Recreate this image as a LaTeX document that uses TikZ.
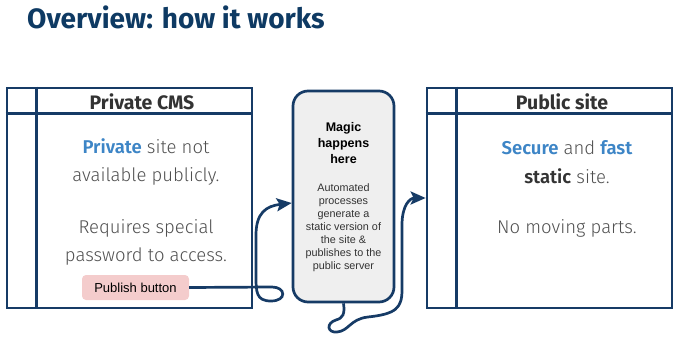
\documentclass[tikz,border=0pt]{standalone}
\usepackage{fontspec}
\setmainfont{Fira Sans}
\newfontfamily\lightfont{Fira Sans Light}
\newfontfamily\arialfont{Liberation Sans}
\usetikzlibrary{arrows.meta}

\definecolor{navy}{HTML}{0E3A63}
\definecolor{boxline}{HTML}{163B66}
\definecolor{hiblue}{HTML}{3D85C6}
\definecolor{bodygray}{HTML}{505050}
\definecolor{headgray}{HTML}{333333}
\definecolor{magicfill}{HTML}{EFEFEF}
\definecolor{btnpink}{HTML}{F4CCCC}

\begin{document}
\begin{tikzpicture}[
  x=1pt, y=-1pt,
  >={Stealth[length=15pt,width=13pt,inset=3pt]},
  sitebox/.style={draw=boxline,line width=2.7pt,minimum width=245pt,minimum height=220pt,inner sep=0pt},
  headtext/.style={text=headgray,font=\fontsize{19.5}{22}\selectfont\bfseries},
  bodytext/.style={text=bodygray,align=center,font=\lightfont\fontsize{18.5}{28.5}\selectfont},
  flow/.style={->,line width=2.7pt,boxline}
]
\useasboundingbox (0,0) rectangle (680,345);

% title
\node[anchor=base west,inner sep=0pt,text=navy,font=\fontsize{28}{30}\selectfont\bfseries]
  (title) at (27,29) {Overview: how it works};

%--------------------
% Private CMS
%--------------------
\node[sitebox] (cms) at (129.5,198) {};
\draw[boxline,line width=2.7pt] ([xshift=31pt]cms.north west) -- ([xshift=31pt]cms.south west);
\draw[boxline,line width=2.7pt] ([yshift=-27pt]cms.north west) -- ([yshift=-27pt]cms.north east);
\node[headtext] (cmshead) at (142,102) {Private CMS};
\node[bodytext] (cmstext1) at (146,162)
  {{\color{hiblue}\bfseries Private} site not\\available publicly.};
\node[bodytext] (cmstext2) at (146,242.5)
  {Requires special\\password to access.};
\node[fill=btnpink,rounded corners=4pt,minimum width=107pt,minimum height=25pt,
  inner sep=0pt,font=\arialfont\fontsize{13}{15}\selectfont]
  (pub) at (135.5,287.5) {Publish button};

%--------------------
% Magic
%--------------------
\node[draw=boxline,line width=2.7pt,fill=magicfill,rounded corners=15pt,
  minimum width=101pt,minimum height=211pt,inner sep=0pt] (magic) at (343.5,196.5) {};
\node[align=center,font=\arialfont\fontsize{12.5}{16}\selectfont\bfseries]
  (magichead) at (343.5,143) {Magic\\happens\\here};
\node[align=center,text=headgray,font=\arialfont\fontsize{10.8}{13}\selectfont]
  (magictext) at (343.5,228) {Automated\\processes\\generate a\\static version of\\the site \&\\publishes to the\\public server};

%--------------------
% Public site
%--------------------
\node[sitebox] (pubsite) at (549.5,198) {};
\draw[boxline,line width=2.7pt] ([xshift=31pt]pubsite.north west) -- ([xshift=31pt]pubsite.south west);
\draw[boxline,line width=2.7pt] ([yshift=-27pt]pubsite.north west) -- ([yshift=-27pt]pubsite.north east);
\node[headtext] (pubhead) at (562,102) {Public site};
\node[bodytext] (pubtext1) at (567,162)
  {{\color{hiblue}\bfseries Secure} and {\color{hiblue}\bfseries fast}\\{\color{headgray}\bfseries static} site.};
\node[bodytext] (pubtext2) at (567,228) {No moving parts.};

% connectors with loops
\draw[flow] (pub.east) -- (272,287)
  .. controls (286,287) and (287,301) .. (271,301)
  .. controls (256,301) and (256,292) .. (256,275)
  -- (256,235)
  .. controls (256,213) and (266,206) .. ([yshift=-6.5pt]magic.west);
\draw[flow] (magic.south)
  .. controls (345,314) and (343,318) .. (336,320)
  .. controls (326,323) and (327,333) .. (337,332)
  .. controls (349,331) and (350,319) .. (368,317)
  .. controls (396,314) and (402,308) .. (402,290)
  -- (402,225)
  .. controls (402,205) and (410,198) .. (pubsite.west);
\end{tikzpicture}
\end{document}
